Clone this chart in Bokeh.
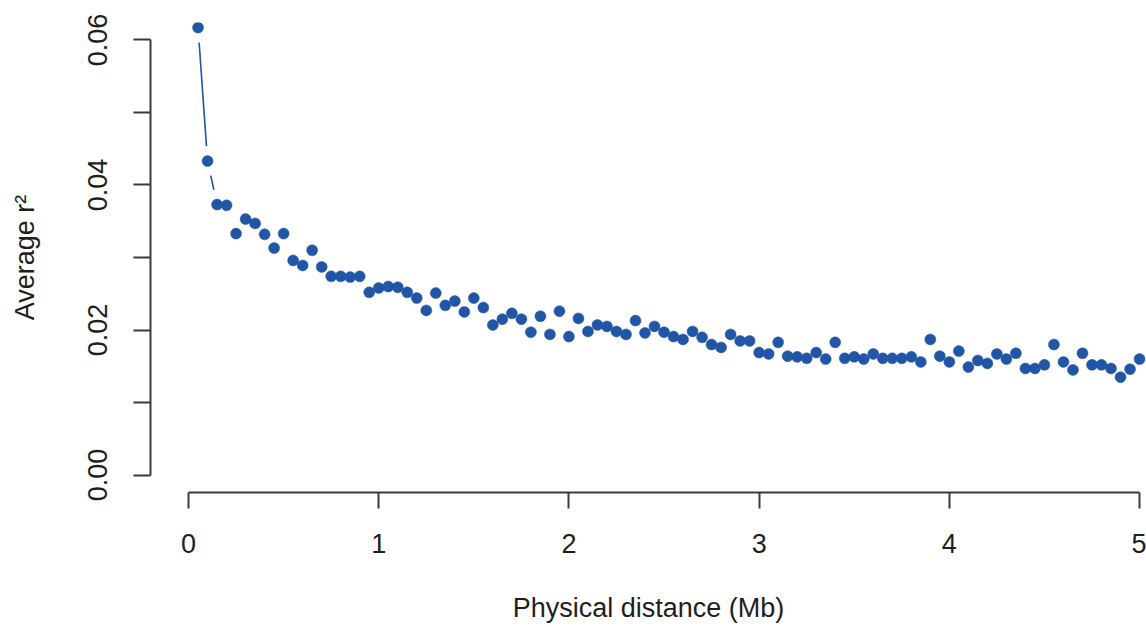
import math
from bokeh.plotting import figure
from bokeh.models import Range1d, FixedTicker, NumeralTickFormatter
from bokeh.embed import file_html
from bokeh.resources import INLINE

# ---- data ----
distance_mb = [0.05, 0.10, 0.15, 0.20, 0.25, 0.30, 0.35, 0.40, 0.45, 0.50,
               0.55, 0.60, 0.65, 0.70, 0.75, 0.80, 0.85, 0.90, 0.95, 1.00,
               1.05, 1.10, 1.15, 1.20, 1.25, 1.30, 1.35, 1.40, 1.45, 1.50,
               1.55, 1.60, 1.65, 1.70, 1.75, 1.80, 1.85, 1.90, 1.95, 2.00,
               2.05, 2.10, 2.15, 2.20, 2.25, 2.30, 2.35, 2.40, 2.45, 2.50,
               2.55, 2.60, 2.65, 2.70, 2.75, 2.80, 2.85, 2.90, 2.95, 3.00,
               3.05, 3.10, 3.15, 3.20, 3.25, 3.30, 3.35, 3.40, 3.45, 3.50,
               3.55, 3.60, 3.65, 3.70, 3.75, 3.80, 3.85, 3.90, 3.95, 4.00,
               4.05, 4.10, 4.15, 4.20, 4.25, 4.30, 4.35, 4.40, 4.45, 4.50,
               4.55, 4.60, 4.65, 4.70, 4.75, 4.80, 4.85, 4.90, 4.95, 5.00]

avg_r2 = [0.0617, 0.0433, 0.0373, 0.0372, 0.0333, 0.0353, 0.0347, 0.0332, 0.0313, 0.0333,
          0.0296, 0.0289, 0.0310, 0.0287, 0.0274, 0.0274, 0.0273, 0.0274, 0.0252, 0.0258,
          0.0260, 0.0259, 0.0252, 0.0244, 0.0227, 0.0251, 0.0234, 0.0240, 0.0225, 0.0244,
          0.0231, 0.0207, 0.0215, 0.0223, 0.0215, 0.0197, 0.0219, 0.0194, 0.0226, 0.0191,
          0.0216, 0.0198, 0.0207, 0.0205, 0.0198, 0.0194, 0.0213, 0.0196, 0.0205, 0.0197,
          0.0191, 0.0187, 0.0198, 0.0190, 0.0180, 0.0176, 0.0194, 0.0185, 0.0185, 0.0169,
          0.0167, 0.0183, 0.0164, 0.0163, 0.0161, 0.0169, 0.0160, 0.0183, 0.0161, 0.0163,
          0.0160, 0.0167, 0.0161, 0.0161, 0.0161, 0.0163, 0.0156, 0.0187, 0.0164, 0.0156,
          0.0171, 0.0149, 0.0158, 0.0154, 0.0167, 0.0160, 0.0168, 0.0147, 0.0147, 0.0152,
          0.0180, 0.0156, 0.0145, 0.0168, 0.0152, 0.0152, 0.0147, 0.0135, 0.0146, 0.0160]

x_ticks = [0, 1, 2, 3, 4, 5]
y_major_ticks = [0.00, 0.02, 0.04, 0.06]
y_minor_ticks = [0.01, 0.03, 0.05]

x_title = "Physical distance (Mb)"
y_title = "Average r\u00b2"

# ---- layout ----
W, H = 1146, 627
B_LEFT, B_RIGHT, B_TOP, B_BOTTOM = 150, 0, 22, 135
x_start = -0.2
y_start, y_end = -0.0024, 0.0624
px_per_mb = 190.2
frame_w = W - B_LEFT - B_RIGHT
frame_h = H - B_TOP - B_BOTTOM
x_end = x_start + frame_w / px_per_mb

COLOR = "#2155a5"
FONT = "Liberation Sans"
FS = "27px"
TXT = "#1e1e1e"
AX = "#3a3a3a"

p = figure(width=W, height=H, output_backend="svg", toolbar_location=None,
           x_range=Range1d(x_start, x_end), y_range=Range1d(y_start, y_end),
           min_border_left=B_LEFT, min_border_right=B_RIGHT,
           min_border_top=B_TOP, min_border_bottom=B_BOTTOM,
           background_fill_color="white", border_fill_color="white")
p.outline_line_color = None
p.grid.visible = False

# lines between points with gaps (R type="b")
sx = frame_w / (x_end - x_start)
sy = frame_h / (y_end - y_start)
gap = 15.0
x0s, y0s, x1s, y1s = [], [], [], []
for i in range(len(distance_mb) - 1):
    dxd = distance_mb[i + 1] - distance_mb[i]
    dyd = avg_r2[i + 1] - avg_r2[i]
    d = math.hypot(dxd * sx, dyd * sy)
    if d > 2 * gap:
        t = gap / d
        x0s.append(distance_mb[i] + dxd * t)
        y0s.append(avg_r2[i] + dyd * t)
        x1s.append(distance_mb[i + 1] - dxd * t)
        y1s.append(avg_r2[i + 1] - dyd * t)
p.segment(x0=x0s, y0=y0s, x1=x1s, y1=y1s, line_color=COLOR, line_width=1.6)

p.scatter(distance_mb, avg_r2, size=11, fill_color=COLOR, line_color=COLOR, line_width=0.5)

# x axis
xa = p.xaxis[0]
xa.ticker = FixedTicker(ticks=x_ticks, minor_ticks=[])
xa.bounds = (0, 5)
xa.axis_line_color = AX
xa.axis_line_width = 2
xa.major_tick_line_color = AX
xa.major_tick_line_width = 2
xa.major_tick_in = 0
xa.major_tick_out = 16
xa.minor_tick_line_color = None
xa.major_label_standoff = 25
xa.major_label_text_font = FONT
xa.major_label_text_font_size = FS
xa.major_label_text_color = TXT
xa.axis_label = x_title
xa.axis_label_text_font = FONT
xa.axis_label_text_font_size = FS
xa.axis_label_text_font_style = "normal"
xa.axis_label_text_color = TXT
xa.axis_label_standoff = 37

# y axis
ya = p.yaxis[0]
ya.ticker = FixedTicker(ticks=y_major_ticks, minor_ticks=y_minor_ticks)
ya.formatter = NumeralTickFormatter(format="0.00")
ya.bounds = (0, 0.06)
ya.axis_line_color = AX
ya.axis_line_width = 2
ya.major_tick_line_color = AX
ya.major_tick_line_width = 2
ya.major_tick_in = 0
ya.major_tick_out = 17
ya.minor_tick_line_color = AX
ya.minor_tick_line_width = 2
ya.minor_tick_in = 0
ya.minor_tick_out = 17
ya.major_label_orientation = "vertical"
ya.major_label_standoff = 26
ya.major_label_text_font = FONT
ya.major_label_text_font_size = FS
ya.major_label_text_color = TXT
ya.axis_label = y_title
ya.axis_label_text_font = FONT
ya.axis_label_text_font_size = FS
ya.axis_label_text_font_style = "normal"
ya.axis_label_text_color = TXT
ya.axis_label_standoff = 46

open("out.html", "w").write(file_html(p, INLINE))
